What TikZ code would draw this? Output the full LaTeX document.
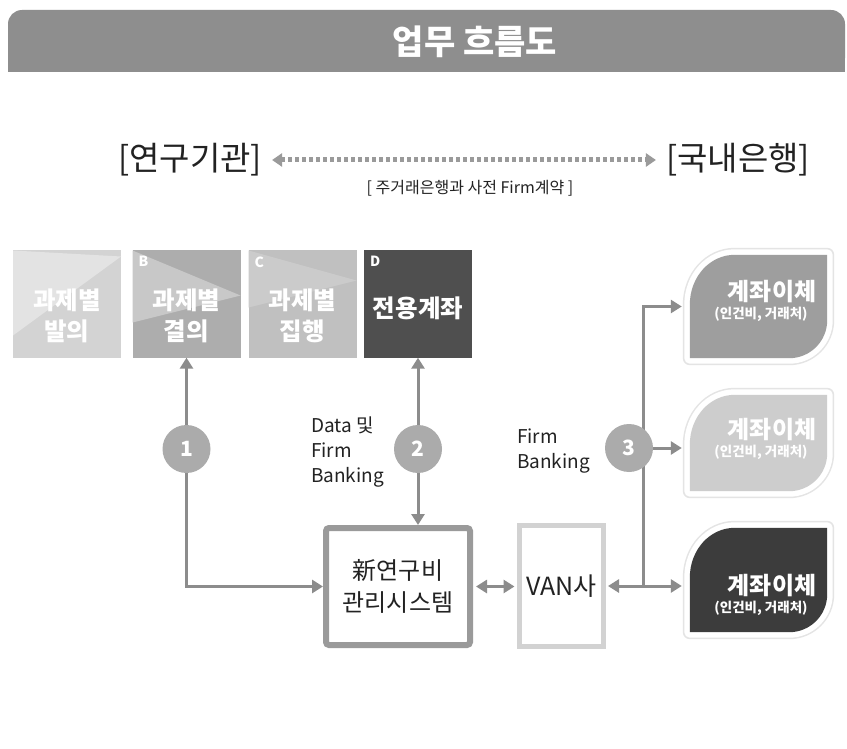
\documentclass[tikz,border=0pt]{standalone}
\usepackage{fontspec}
\setmainfont{Noto Sans CJK KR}
\usetikzlibrary{arrows.meta,calc}
\definecolor{bannergray}{HTML}{8E8E8E}
\definecolor{arrgray}{HTML}{8C8C8C}
\definecolor{dotgray}{HTML}{9A9A9A}
\definecolor{txt}{HTML}{222222}
\definecolor{aBase}{HTML}{D3D3D3}
\definecolor{aLight}{HTML}{E3E3E3}
\definecolor{bBase}{HTML}{ADADAD}
\definecolor{bLight}{HTML}{C8C8C8}
\definecolor{cBase}{HTML}{C0C0C0}
\definecolor{cLight}{HTML}{CBCBCB}
\definecolor{dBase}{HTML}{4F4F4F}
\definecolor{circgray}{HTML}{ABABAB}
\definecolor{sysborder}{HTML}{9A9A9A}
\definecolor{vanborder}{HTML}{D2D2D2}
\definecolor{leafA}{HTML}{9E9E9E}
\definecolor{leafB}{HTML}{CDCDCD}
\definecolor{leafC}{HTML}{3C3C3C}
\definecolor{halo}{HTML}{E4E4E4}
\newcommand\leafpath[1]{%
  (#1.south west) -- ($(#1.north west)+(0,50)$)
  .. controls ($(#1.north west)+(0,22)$) and ($(#1.north west)+(20,0)$) .. ($(#1.north west)+(45,0)$)
  -- (#1.north east) -- ($(#1.south east)+(0,-38)$)
  .. controls ($(#1.south east)+(0,-17)$) and ($(#1.south east)+(-17,0)$) .. ($(#1.south east)+(-38,0)$)
  -- cycle}
\begin{document}
\begin{tikzpicture}[x=1pt,y=-1pt,
  tip/.tip={Triangle[length=11pt,width=13pt]},
  arr/.style={draw=arrgray, line width=3pt, -tip},
  arrboth/.style={draw=arrgray, line width=3pt, tip-tip},
  taskbox/.style={rectangle, minimum width=108pt, minimum height=107pt, inner sep=0pt},
  tasktext/.style={text=white, inner sep=0pt, align=center, font=\bfseries\fontsize{24.5}{31}\selectfont},
  letter/.style={anchor=north west, text=white, inner sep=0pt, font=\bfseries\fontsize{14}{14}\selectfont},
  circ/.style={circle, fill=circgray, minimum size=48pt, inner sep=0pt, text=white,
    font=\bfseries\fontsize{21}{21}\selectfont},
  leafbox/.style={rectangle, minimum width=137pt, inner sep=0pt},
  leaftitle/.style={text=white, inner sep=0pt, font=\bfseries\fontsize{24}{24}\selectfont},
  leafsub/.style={text=white, inner sep=0pt, font=\bfseries\fontsize{13.5}{13.5}\selectfont},
  label/.style={text=txt, inner sep=0pt, align=left, font=\fontsize{19}{25}\selectfont},
]
\useasboundingbox (0,0) rectangle (847,749);
\fill[white] (0,0) rectangle (847,749);

% banner
\fill[bannergray, rounded corners=14pt] (8,10) rectangle (845,72);
\fill[bannergray] (8,40) rectangle (845,72);
\node[text=white, inner sep=0pt, font=\bfseries\fontsize{34}{34}\selectfont] (title) at (475,42) {업무 흐름도};

% top parties
\node[text=txt, inner sep=0pt, font=\fontsize{33}{33}\selectfont] (inst) at (190,160) {[연구기관]};
\node[text=txt, inner sep=0pt, font=\fontsize{33}{33}\selectfont] (bank) at (738,160) {[국내은행]};
\draw[dotgray, line width=5pt, dash pattern=on 4pt off 3pt,
  {Triangle[length=10pt,width=13pt]}-{Triangle[length=10pt,width=13pt]},
  shorten <=10pt, shorten >=10pt] (inst.east) -- (bank.west);
\node[text=txt, inner sep=0pt, font=\fontsize{16}{16}\selectfont] (contract) at (470,188) {[ 주거래은행과 사전 Firm계약 ]};

% task boxes
\node[taskbox, fill=aBase, path picture={\fill[aLight] (path picture bounding box.north west)
  -- ($(path picture bounding box.north east)+(0,6)$) -- ($(path picture bounding box.south west)+(0,-22)$) -- cycle;}]
  (boxA) at (67,304) {};
\node[taskbox, fill=bBase, path picture={\fill[bLight] (path picture bounding box.north west)
  -- ($(path picture bounding box.north east)+(0,45)$) -- ($(path picture bounding box.south west)+(0,-35)$) -- cycle;}]
  (boxB) at (186.5,304) {};
\node[taskbox, fill=cBase, path picture={\fill[cLight] (path picture bounding box.north west)
  -- ($(path picture bounding box.north east)+(0,30)$) -- ($(path picture bounding box.south west)+(0,-50)$) -- cycle;}]
  (boxC) at (302.5,304) {};
\node[taskbox, fill=dBase] (boxD) at (418,304) {};
\node[tasktext] (tA) at ($(boxA.center)+(0,12)$) {과제별\\발의};
\node[tasktext] (tB) at ($(boxB.center)+(0,12)$) {과제별\\결의};
\node[tasktext] (tC) at ($(boxC.center)+(0,12)$) {과제별\\집행};
\node[tasktext] (tD) at ($(boxD.center)+(0,4)$) {전용계좌};
\node[letter] (lB) at ($(boxB.north west)+(6,6)$) {B};
\node[letter] (lC) at ($(boxC.north west)+(6,6)$) {C};
\node[letter] (lD) at ($(boxD.north west)+(6,6)$) {D};

% system boxes
\node[draw=sysborder, line width=6pt, rounded corners=3pt, fill=white, minimum width=144pt, minimum height=117pt,
  align=center, text=txt, font=\fontsize{24}{32}\selectfont] (sys) at (398,586.5) {新연구비\\관리시스템};
\node[draw=vanborder, line width=5pt, fill=white, minimum width=84pt, minimum height=121pt,
  text=txt, font=\fontsize{25}{25}\selectfont] (van) at (561.5,586) {VAN사};

% leaves
\node[leafbox, minimum height=103pt] (leaf1) at (758.5,306.5) {};
\node[leafbox, minimum height=96pt] (leaf2) at (758.5,443) {};
\node[leafbox, minimum height=104pt] (leaf3) at (758.5,580) {};
\foreach \n/\c in {leaf1/leafA, leaf2/leafB, leaf3/leafC}{
  \draw[halo, line width=14pt, line join=round] \leafpath{\n};
  \draw[white, line width=11pt, line join=round] \leafpath{\n};
  \fill[\c] \leafpath{\n};
}
\node[leaftitle] (t1) at (772,292) {계좌이체};
\node[leafsub] (s1) at (761,314) {(인건비, 거래처)};
\node[leaftitle] (t2) at (772,430) {계좌이체};
\node[leafsub] (s2) at (761,452) {(인건비, 거래처)};
\node[leaftitle] (t3) at (772,586) {계좌이체};
\node[leafsub] (s3) at (761,608) {(인건비, 거래처)};

% connectors
\draw[arrboth] (boxB.south) |- (sys.west);
\draw[arrboth] (boxD.south) -- (boxD.south |- sys.north);
\draw[arrboth, shorten <=3pt, shorten >=2.5pt] (sys.east) -- (sys.east -| van.west);
\coordinate (j) at (643,586);
\draw[arr, shorten >=2pt] (j) -- (van.east);
\draw[arr, shorten >=8pt] (j) -- (j -| leaf3.west);
\draw[arr, shorten >=8pt] (j) |- (leaf1.west);

% labels
\node[label, anchor=west] (lab2) at (311,452) {Data 및\\Firm\\Banking};
\node[label, anchor=west] (lab3) at (517,451) {Firm\\Banking};

% circles
\node[circ] (c1) at (186.5,449) {1};
\node[circ] (c2) at (418,449) {2};
\node[circ] (c3) at (629,448) {3};
\draw[arr, shorten >=8pt] (c3.east) -- (c3.east -| leaf2.west);
\end{tikzpicture}
\end{document}
